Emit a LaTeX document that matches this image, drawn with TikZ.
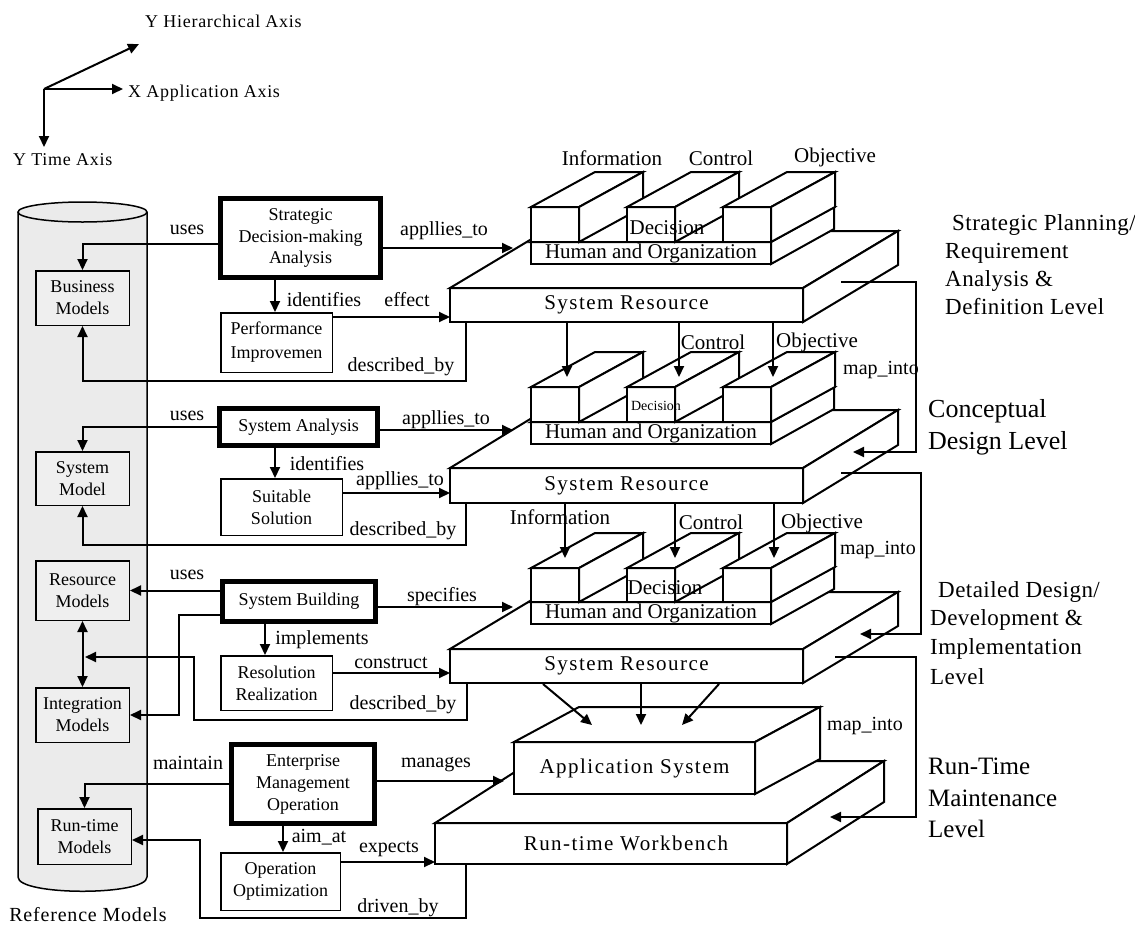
\documentclass[tikz,border=0pt]{standalone}
\usepackage{fontspec}
\setmainfont{Liberation Serif}
\newfontfamily\wideA[LetterSpace=7]{Liberation Serif}
\newfontfamily\wideB[LetterSpace=4]{Liberation Serif}
\newfontfamily\wideC[LetterSpace=2]{Liberation Serif}
\usetikzlibrary{arrows.meta,calc}
\definecolor{cylgray}{HTML}{EBEBEB}
\definecolor{boxgray}{HTML}{EFEFEF}
\newcommand\bxfont{\fontsize{18}{22}\selectfont}
\newcommand\lbfont{\fontsize{20}{24}\selectfont}
\newcommand\slfont{\fontsize{21}{25}\selectfont}
\newcommand\axfont{\wideB\fontsize{18}{20}\selectfont}
\newcommand\smfont{\fontsize{14}{16}\selectfont}
\newcommand\lvA{\wideC\fontsize{23}{28}\selectfont}
\newcommand\lvB{\fontsize{26}{32}\selectfont}
\newcommand\topside[3]{%
  \draw[face] (#1.north west) -- ++(#2,#3) -- ($(#1.north east)+(#2,#3)$) -- (#1.north east) -- cycle;
  \draw[face] (#1.north east) -- ++(#2,#3) -- ($(#1.south east)+(#2,#3)$) -- (#1.south east) -- cycle;
}
\tikzset{
  arr/.style={line width=2pt,-{Triangle[length=11pt,width=10pt]}},
  darr/.style={line width=2pt,{Triangle[length=11pt,width=10pt]}-{Triangle[length=11pt,width=10pt]}},
  face/.style={draw,fill=white,line width=2pt},
  slab/.style={draw,fill=white,line width=2pt,inner sep=0pt,outer sep=0pt,font=\slfont},
  wslab/.style={slab,font=\wideA\slfont},
  procbox/.style={draw,fill=white,line width=5pt,inner sep=0pt,align=center,font=\bxfont},
  subbox/.style={draw,fill=white,line width=1.5pt,inner sep=0pt,align=center,font=\bxfont},
  modelbox/.style={draw,fill=boxgray,line width=1.5pt,inner sep=0pt,align=center,font=\bxfont},
  lbl/.style={inner sep=0pt,font=\lbfont},
  sll/.style={inner sep=0pt,font=\slfont},
  axl/.style={inner sep=0pt,font=\axfont,anchor=mid west},
  lvl/.style={inner sep=0pt,anchor=mid west},
  cyl/.style={line width=1.5pt},
}
\begin{document}
\begin{tikzpicture}[x=1pt,y=-1pt]
\useasboundingbox (0,0) rectangle (1135,924);

% ---------- axes
\coordinate (o) at (44,89);
\coordinate (hy) at (139,44);
\coordinate (xa) at (123,89);
\coordinate (ty) at (44,147);
\draw[arr] (o) -- (hy);
\draw[arr] (o) -- (xa);
\draw[arr] (o) -- (ty);
\node[axl] (hyl) at (145,25) {Y Hierarchical Axis};
\node[axl] (xal) at (128,95) {X Application Axis};
\node[axl] (tyl) at (13,163) {Y Time Axis};

% ---------- cylinder
\fill[cylgray] (18,212) -- (18,877) .. controls (18,896) and (147,896) .. (147,877) -- (147,212) -- cycle;
\draw[cyl] (18,212) -- (18,877) .. controls (18,896) and (147,896) .. (147,877) -- (147,212);
\draw[cyl,fill=cylgray] (82.5,212) ellipse [x radius=64.5pt, y radius=10pt];
\node[lbl,font=\wideB\fontsize{20}{22}\selectfont] (refm) at (88,915) {Reference Models};

% ---------- model boxes
\node[modelbox,minimum width=93.5,minimum height=54.5] (bm) at (82.5,298) {Business\\Models};
\node[modelbox,minimum width=93.5,minimum height=53.5] (sm) at (82.5,478.5) {System\\Model};
\node[modelbox,minimum width=93.5,minimum height=59.5] (rsm) at (82.5,590.5) {Resource\\Models};
\node[modelbox,minimum width=93.5,minimum height=54.5] (im) at (82.5,715) {Integration\\Models};
\node[modelbox,minimum width=93.5,minimum height=55.5] (rtm) at (84.5,836.5) {Run-time\\Models};

% ---------- process boxes
\node[procbox,minimum width=160,minimum height=79,font=\fontsize{18}{21.5}\selectfont] (sda) at (300.5,238) {Strategic\\Decision-making\\Analysis};
\node[subbox,minimum width=111.5,minimum height=59.5,font=\fontsize{18}{24}\selectfont] (pi) at (276.5,342.5) {Performance\\Improvemen};
\node[procbox,minimum width=158,minimum height=37] (sa) at (298.5,427) {System Analysis};
\node[subbox,minimum width=121.5,minimum height=56.5] (ss) at (281.5,507) {Suitable\\Solution};
\node[procbox,minimum width=153,minimum height=40] (sb) at (299,601.5) {System Building};
\node[subbox,minimum width=111.5,minimum height=54.5] (rr) at (276.5,683) {Resolution\\Realization};
\node[procbox,minimum width=143,minimum height=79] (emo) at (303,784) {Enterprise\\Management\\Operation};
\node[subbox,minimum width=119.5,minimum height=57.5] (oo) at (280.5,881.5) {Operation\\Optimization};

% ---------- level 1
\node[wslab,minimum width=353,minimum height=34] (sr1) at (626.5,305) {System Resource};
\topside{sr1}{95}{-57}
\node[slab,minimum width=240,minimum height=22] (ho1) at (651,253) {Human and Organization};
\topside{ho1}{63}{-35}
\node[slab,minimum width=48,minimum height=35] (p11) at (555,224.5) {};
\topside{p11}{64}{-35}
\node[slab,minimum width=48,minimum height=35] (p12) at (651,224.5) {};
\topside{p12}{64}{-35}
\node[slab,minimum width=48,minimum height=35] (p13) at (747,224.5) {};
\topside{p13}{64}{-35}
\node[sll] (dec1) at (667,228) {Decision};
\node[sll] (inf1) at (612,158) {Information};
\node[sll] (con1) at (721,158) {Control};
\node[sll] (obj1) at (835,157) {Objective};

% ---------- level 2
\node[wslab,minimum width=353,minimum height=35] (sr2) at (626.5,485.5) {System Resource};
\topside{sr2}{95}{-58}
\node[slab,minimum width=240,minimum height=22] (ho2) at (651,433) {Human and Organization};
\topside{ho2}{63}{-35}
\node[slab,minimum width=48,minimum height=35] (p21) at (555,404.5) {};
\topside{p21}{64}{-35}
\node[slab,minimum width=48,minimum height=35] (p22) at (651,404.5) {};
\topside{p22}{64}{-35}
\node[slab,minimum width=48,minimum height=35] (p23) at (747,404.5) {};
\topside{p23}{64}{-35}
\node[inner sep=0pt,font=\smfont] (dec2) at (656,406) {Decision};
\node[sll] (con2) at (713,342) {Control};
\node[sll] (obj2) at (817,342) {Objective};

% ---------- level 3
\node[wslab,minimum width=353,minimum height=34] (sr3) at (626.5,666) {System Resource};
\topside{sr3}{95}{-57}
\node[slab,minimum width=240,minimum height=22] (ho3) at (651,613) {Human and Organization};
\topside{ho3}{63}{-35}
\node[slab,minimum width=48,minimum height=34] (p31) at (555,585) {};
\topside{p31}{64}{-35}
\node[slab,minimum width=48,minimum height=34] (p32) at (651,585) {};
\topside{p32}{64}{-35}
\node[slab,minimum width=48,minimum height=34] (p33) at (747,585) {};
\topside{p33}{64}{-35}
\node[sll] (dec3) at (665,588) {Decision};
\node[sll] (inf3) at (560,517) {Information};
\node[sll] (con3) at (711,522) {Control};
\node[sll] (obj3) at (822,523) {Objective};

% ---------- level 4
\node[wslab,minimum width=352,minimum height=41] (rw) at (611,843.5) {\hspace*{30pt}Run-time Workbench};
\topside{rw}{97}{-62}
\node[wslab,minimum width=241,minimum height=52] (app) at (634.5,768) {Application System};
\topside{app}{65}{-35}

% ---------- vertical arrows between levels
\coordinate (a21) at (567,377); \coordinate (a22) at (679,377); \coordinate (a23) at (773,377);
\draw[arr] (sr1.south -| a21) -- (a21);
\draw[arr] (sr1.south -| a22) -- (a22);
\draw[arr] (sr1.south -| a23) -- (a23);
\coordinate (a31) at (565,558); \coordinate (a32) at (675,558); \coordinate (a33) at (774,558);
\draw[arr] (sr2.south -| a31) -- (a31);
\draw[arr] (sr2.south -| a32) -- (a32);
\draw[arr] (sr2.south -| a33) -- (a33);
\coordinate (a41s) at (543,684); \coordinate (a41) at (592,725);
\coordinate (a42) at (641,725);
\coordinate (a43s) at (719,684); \coordinate (a43) at (682,725);
\draw[arr] (a41s) -- (a41);
\draw[arr] (sr3.south -| a42) -- (a42);
\draw[arr] (a43s) -- (a43);

% ---------- map_into connectors
\coordinate (m1s) at (841,282); \coordinate (m1t) at (853,452);
\draw[arr] (m1s) -- (916,282) -- (916,452) -- (m1t);
\coordinate (m2s) at (841,473); \coordinate (m2t) at (860,634);
\draw[arr] (m2s) -- (921,473) -- (921,634) -- (m2t);
\coordinate (m3s) at (835,657); \coordinate (m3t) at (830,817);
\draw[arr] (m3s) -- (916,657) -- (916,817) -- (m3t);
\node[lbl,anchor=mid west] (mi1) at (843,372) {map\_into};
\node[lbl,anchor=mid west] (mi2) at (840,552) {map\_into};
\node[lbl,anchor=mid west] (mi3) at (827,728) {map\_into};

% ---------- level 1 connectors
\draw[arr] (sda.west |- 0,244) -| (bm.north);
\draw[arr] (sda.south -| 275,0) -- (pi.north -| 275,0);
\coordinate (at1) at (513,248);
\draw[arr] (sda.east |- at1) -- (at1);
\draw[arr] (pi.east |- 0,317) -- (sr1.west |- 0,317);
\draw[arr] (sr1.south -| 466,0) -- (466,381) -| (bm.south);
\node[lbl] (u1) at (187,230) {uses};
\node[lbl] (id1) at (324,300) {identifies};
\node[lbl] (ef1) at (407,300) {effect};
\node[lbl] (ap1) at (444,231) {appllies\_to};
\node[lbl] (db1) at (401,367) {described\_by};

% ---------- level 2 connectors
\draw[arr] (sa.west) -| (sm.north);
\draw[arr] (sa.south -| 275,0) -- (ss.north -| 275,0);
\coordinate (at2) at (513,430);
\draw[arr] (sa.east |- at2) -- (at2);
\draw[arr] (ss.east |- 0,493) -- (sr2.west |- 0,493);
\draw[arr] (sr2.south -| 466,0) -- (466,545) -| (sm.south);
\node[lbl] (u2) at (187,416) {uses};
\node[lbl] (id2) at (327,464) {identifies};
\node[lbl] (ap2) at (446,420) {appllies\_to};
\node[lbl] (ap3) at (400,481) {appllies\_to};
\node[lbl] (db2) at (403,531) {described\_by};

% ---------- level 3 connectors
\draw[arr] (sb.west |- rsm.east) -- (rsm.east);
\draw[arr] (sb.west |- 0,615) -- (179,615) -- (179,715) -- (im.east);
\draw[darr] (rsm.south) -- (im.north);
\coordinate (at3) at (513,607);
\draw[arr] (sb.east |- at3) -- (at3);
\draw[arr] (sb.south -| 265,0) -- (rr.north -| 265,0);
\draw[arr] (rr.east |- 0,673) -- (sr3.west |- 0,673);
\coordinate (dbt) at (85,657);
\draw[arr] (sr3.south -| 467,0) -- (467,720) -- (194,720) -- (194,657) -- (dbt);
\node[lbl] (u3) at (187,575) {uses};
\node[lbl] (sp3) at (442,597) {specifies};
\node[lbl] (im3) at (322,640) {implements};
\node[lbl] (co3) at (391,663) {construct};
\node[lbl] (db3) at (403,705) {described\_by};

% ---------- level 4 connectors
\draw[arr] (emo.west) -| (rtm.north);
\draw[arr] (emo.south -| 283,0) -- (oo.north -| 283,0);
\coordinate (mg) at (504,781);
\draw[arr] (emo.east |- mg) -- (mg);
\draw[arr] (oo.east |- 0,862) -- (rw.west |- 0,862);
\draw[arr] (rw.south -| 466,0) -- (466,918) -- (200,918) -- (200,840) -- (rtm.east |- 0,840);
\node[lbl] (mt4) at (188,763) {maintain};
\node[lbl] (ma4) at (436,765) {manages};
\node[lbl] (aa4) at (319,837) {aim\_at};
\node[lbl] (ex4) at (389,849) {expects};
\node[lbl] (dr4) at (398,908) {driven\_by};

% ---------- level names
\node[lvl,font=\lvA] (l1a) at (952,228) {Strategic Planning/};
\node[lvl,font=\lvA] (l1b) at (945,256) {Requirement};
\node[lvl,font=\lvA] (l1c) at (945,284) {Analysis \&};
\node[lvl,font=\lvA] (l1d) at (945,312) {Definition Level};
\node[lvl,font=\lvB] (l2a) at (928,415) {Conceptual};
\node[lvl,font=\lvB] (l2b) at (928,447) {Design Level};
\node[lvl,font=\lvA] (l3a) at (938,595) {Detailed Design/};
\node[lvl,font=\lvA] (l3b) at (930,623) {Development \&};
\node[lvl,font=\lvA] (l3c) at (930,652) {Implementation};
\node[lvl,font=\lvA] (l3d) at (930,682) {Level};
\node[lvl,font=\fontsize{25}{30}\selectfont] (l4a) at (928,772) {Run-Time};
\node[lvl,font=\fontsize{25}{30}\selectfont] (l4b) at (928,804) {Maintenance};
\node[lvl,font=\fontsize{25}{30}\selectfont] (l4c) at (928,835) {Level};
\end{tikzpicture}
\end{document}
